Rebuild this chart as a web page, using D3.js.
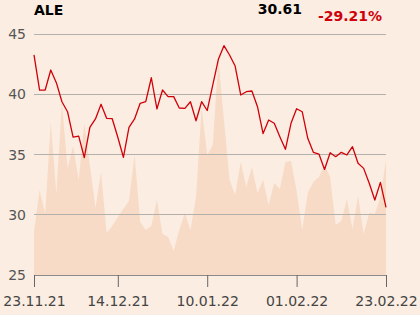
<!DOCTYPE html>
<html><head><meta charset="utf-8">
<script src="https://cdn.jsdelivr.net/npm/d3@7"></script>
<style>
html,body{margin:0;padding:0;background:#FBEDE1;}
svg{display:block;}
</style></head>
<body><svg id="c" width="420" height="315"></svg>
<script>
const dates = ["23.11.21","24.11.21","25.11.21","26.11.21","29.11.21","30.11.21",
"01.12.21","02.12.21","03.12.21","06.12.21","07.12.21","08.12.21","09.12.21","10.12.21","13.12.21","14.12.21",
"15.12.21","16.12.21","17.12.21","20.12.21","21.12.21","22.12.21","23.12.21","27.12.21","28.12.21","29.12.21","30.12.21",
"03.01.22","04.01.22","05.01.22","07.01.22","10.01.22",
"11.01.22","12.01.22","13.01.22","14.01.22","17.01.22","18.01.22","19.01.22","20.01.22","21.01.22","24.01.22","25.01.22","26.01.22","27.01.22","28.01.22","31.01.22","01.02.22",
"02.02.22","03.02.22","04.02.22","07.02.22","08.02.22","09.02.22","10.02.22","11.02.22","14.02.22","15.02.22","16.02.22","17.02.22","18.02.22","21.02.22","22.02.22","23.02.22"];
const prices = [43.26,40.35,40.35,42.01,40.96,39.38,38.55,36.45,36.53,34.75,37.26,37.95,39.17,38.0,37.97,36.43,
34.77,37.26,37.95,39.25,39.38,41.37,38.78,40.35,39.8,39.8,38.86,38.83,39.38,37.8,39.38,38.65,
40.77,42.9,44.03,43.26,42.34,39.94,40.21,40.27,38.97,36.74,37.86,37.59,36.48,35.43,37.59,38.8,
38.55,36.34,35.18,35.04,33.76,35.15,34.82,35.18,34.96,35.65,34.27,33.85,32.61,31.22,32.69,30.61];
const volumes = [430,850,610,1530,810,1720,1070,1290,950,1520,1100,670,1030,420,490,580,
660,740,1200,530,450,490,750,410,380,240,450,620,450,780,1670,1200,
1300,2150,1550,950,800,1130,880,1080,820,950,700,920,860,1130,1140,840,
450,820,930,980,1100,980,500,540,760,460,790,410,620,610,780,1150];
const yTicks = [25,30,35,40,45];
const xTickLabels = ["23.11.21","14.12.21","10.01.22","01.02.22","23.02.22"];
const title = "ALE", lastPrice = "30.61", change = "-29.21%";

const svg = d3.select("#c");
const L = 34, R = 386, T = 34, B = 275;
const x = d3.scalePoint().domain(dates).range([L, R]);
const y = d3.scaleLinear().domain([25, 45]).range([B, T]);
const yv = d3.scaleLinear().domain([0, 2410]).range([B, T]);
const font = "DejaVu Sans, sans-serif";

// volume area
svg.append("path").datum(volumes)
  .attr("fill", "#F7DBC6")
  .attr("d", d3.area().x((d,i)=>x(dates[i])).y0(B).y1(d=>yv(d)));

// gridlines
svg.append("g").selectAll("line").data(yTicks.filter(t=>t>25)).join("line")
  .attr("x1", L).attr("x2", R).attr("y1", d=>y(d)).attr("y2", d=>y(d))
  .attr("stroke", "#B4B0AC").attr("stroke-width", 1).attr("shape-rendering","crispEdges");

// y labels
svg.append("g").selectAll("text").data(yTicks).join("text")
  .attr("x", 26).attr("y", d=>y(d)).attr("dy", "0.36em").attr("text-anchor","end")
  .attr("font-family", font).attr("font-size", 14).attr("fill", "#555")
  .text(d=>d);

// x axis
const xAxis = d3.axisBottom(x).tickValues(xTickLabels).tickSize(12).tickPadding(9);
const gx = svg.append("g").attr("transform", `translate(0,${B})`).call(xAxis);
gx.select(".domain").attr("stroke", "#8a8a8a").attr("d", `M${L},0.5H${R}`);
gx.selectAll(".tick line").attr("stroke", "#666");
gx.selectAll(".tick text").attr("font-family", font).attr("font-size", 14).attr("fill", "#444");

// price line
svg.append("path").datum(prices)
  .attr("fill", "none").attr("stroke", "#D0000A").attr("stroke-width", 1.3)
  .attr("stroke-linejoin","round")
  .attr("d", d3.line().x((d,i)=>x(dates[i])).y(d=>y(d)));

// header
svg.append("text").attr("x", 34).attr("y", 15).attr("font-family", font).attr("font-weight","bold")
  .attr("font-size", 14).attr("fill", "#000").text(title);
svg.append("text").attr("x", 302).attr("y", 14).attr("text-anchor","end").attr("font-family", font).attr("font-weight","bold")
  .attr("font-size", 14).attr("fill", "#000").text(lastPrice);
svg.append("text").attr("x", 382).attr("y", 21).attr("text-anchor","end").attr("font-family", font).attr("font-weight","bold")
  .attr("font-size", 14).attr("fill", "#D0000A").text(change);
</script></body></html>
